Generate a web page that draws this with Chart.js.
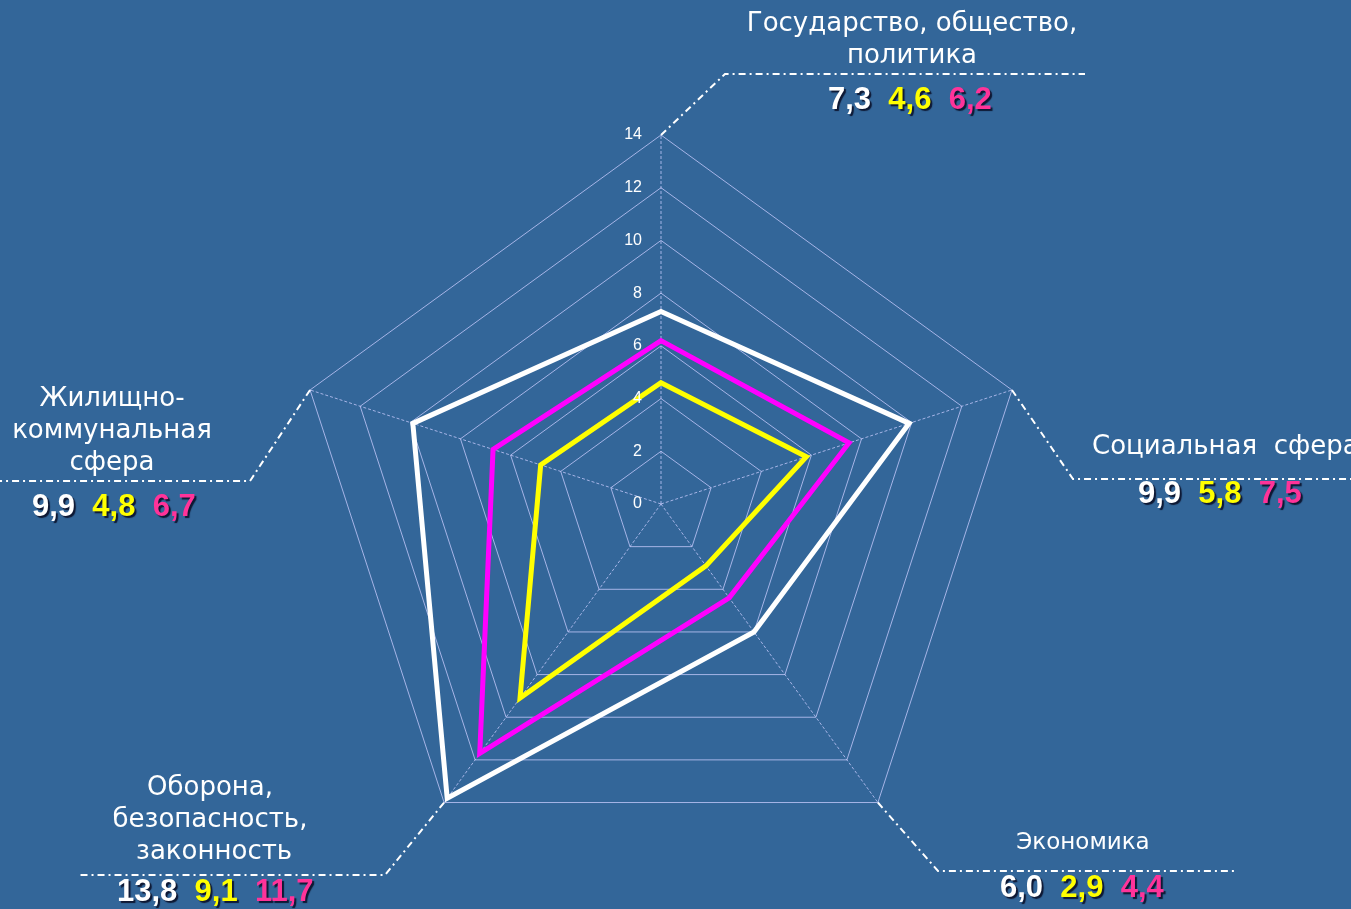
<!DOCTYPE html>
<html>
<head>
<meta charset="utf-8">
<script src="https://cdn.jsdelivr.net/npm/chart.js@4"></script>
<style>
  html, body { margin: 0; padding: 0; background: #336699; overflow: hidden; }
  canvas { display: block; }
</style>
</head>
<body>
<canvas id="radarChart" width="1351" height="909"></canvas>
<script>
// спидограмма по пяти сферам
const categories = ['Государство, общество, политика', 'Социальная сфера', 'Экономика', 'Оборона, безопасность, законность', 'Жилищно-коммунальная сфера'];
const categoryLines = [
    ['Государство, общество,', 'политика'],
    ['Социальная  сфера'],
    ['Экономика'],
    ['Оборона,', 'безопасность,', ' законность'],
    ['Жилищно-', 'коммунальная', 'сфера']
];
const valuesWhite = [7.3, 9.9, 6.0, 13.8, 9.9];
const valuesYellow = [4.6, 5.8, 2.9, 9.1, 4.8];
const valuesMagenta = [6.2, 7.5, 4.4, 11.7, 6.7];
const scaleMax = 14;
const scaleStep = 2;

const gridColor = 'rgba(195, 200, 250, 0.8)';

// where each caption block sits: text lines, value row, leader line bend and end
const captions = [
    { cx: 912, size: 26, lineY: [24, 56], valX: 828, valY: 100, bend: [725, 74], end: [1085, 74] },
    { left: 1092, size: 26, lineY: [447], valX: 1138, valY: 494, bend: [1073, 479], end: [1351, 479] },
    { cx: 1083, size: 23, lineY: [843], valX: 1000, valY: 888, bend: [938, 871], end: [1235, 871] },
    { cx: 210, size: 26, lineY: [788, 820, 852], valX: 117, valY: 892, bend: [385, 875], end: [77, 875] },
    { cx: 112, size: 26, lineY: [399, 431, 463], valX: 32, valY: 507, bend: [250, 481], end: [0, 481] }
];

function fmt(v) {
    return v.toFixed(1).replace('.', ',');
}

const captionPlugin = {
    id: 'captions',
    afterDraw(chart) {
        const ctx = chart.ctx;
        const scale = chart.scales.r;

        // tick numbers, left of the vertical axis
        ctx.save();
        ctx.font = '16px "Liberation Sans", Arial, sans-serif';
        ctx.fillStyle = '#ffffff';
        ctx.textAlign = 'right';
        ctx.textBaseline = 'middle';
        scale.ticks.forEach(t => {
            const d = scale.getDistanceFromCenterForValue(t.value);
            ctx.fillText(String(t.value), scale.xCenter - 19, scale.yCenter - d);
        });
        ctx.restore();

        categories.forEach((name, i) => {
            const c = captions[i];
            const start = scale.getPointPositionForValue(i, scaleMax);

            // dash-dot leader line
            ctx.save();
            ctx.strokeStyle = '#ffffff';
            ctx.lineWidth = 2;
            ctx.setLineDash([7, 4, 2, 4]);
            ctx.beginPath();
            ctx.moveTo(start.x, start.y);
            ctx.lineTo(c.bend[0], c.bend[1]);
            ctx.lineTo(c.end[0], c.end[1]);
            ctx.stroke();
            ctx.restore();

            // category name
            ctx.save();
            ctx.font = c.size + 'px "DejaVu Sans", Verdana, sans-serif';
            ctx.fillStyle = '#ffffff';
            ctx.textBaseline = 'middle';
            categoryLines[i].forEach((line, k) => {
                if (c.left !== undefined) {
                    ctx.textAlign = 'left';
                    ctx.fillText(line, c.left, c.lineY[k]);
                } else {
                    ctx.textAlign = 'center';
                    ctx.fillText(line, c.cx, c.lineY[k]);
                }
            });
            ctx.restore();

            // values of the three series
            ctx.save();
            ctx.font = 'bold 31px "Liberation Sans", Arial, sans-serif';
            ctx.textAlign = 'left';
            ctx.textBaseline = 'middle';
            ctx.shadowColor = 'rgba(10, 15, 40, 0.9)';
            ctx.shadowOffsetX = 2;
            ctx.shadowOffsetY = 2;
            ctx.shadowBlur = 1;
            const parts = [
                [fmt(valuesWhite[i]), '#ffffff'],
                [fmt(valuesYellow[i]), '#ffff00'],
                [fmt(valuesMagenta[i]), '#ff3399']
            ];
            let x = c.valX;
            const gap = ctx.measureText('  ').width;
            parts.forEach(p => {
                ctx.fillStyle = p[1];
                ctx.fillText(p[0], x, c.valY);
                x += ctx.measureText(p[0]).width + gap;
            });
            ctx.restore();
        });
    }
};

const ctx = document.getElementById('radarChart').getContext('2d');
new Chart(ctx, {
    type: 'radar',
    data: {
        labels: categories,
        datasets: [
            {
                label: 'white',
                data: valuesWhite,
                borderColor: '#ffffff',
                borderWidth: 5,
                fill: false,
                pointRadius: 0,
            },
            {
                label: 'magenta',
                data: valuesMagenta,
                borderColor: '#ff00ff',
                borderWidth: 5,
                fill: false,
                pointRadius: 0,
            },
            {
                label: 'yellow',
                data: valuesYellow,
                borderColor: '#ffff00',
                borderWidth: 5,
                fill: false,
                pointRadius: 0,
            },
        ],
    },
    options: {
        responsive: false,
        animation: false,
        layout: {
            padding: { top: 135, bottom: 36, left: 0, right: 29 },
        },
        plugins: {
            legend: { display: false },
            tooltip: { enabled: false },
        },
        elements: {
            line: { tension: 0, borderJoinStyle: 'miter' },
        },
        scales: {
            r: {
                min: 0,
                max: scaleMax,
                ticks: { stepSize: scaleStep, display: false },
                pointLabels: { display: false },
                grid: { color: gridColor, lineWidth: 1 },
                angleLines: { color: gridColor, lineWidth: 1, borderDash: [3, 2] },
            },
        },
    },
    plugins: [captionPlugin],
});
</script>
</body>
</html>
